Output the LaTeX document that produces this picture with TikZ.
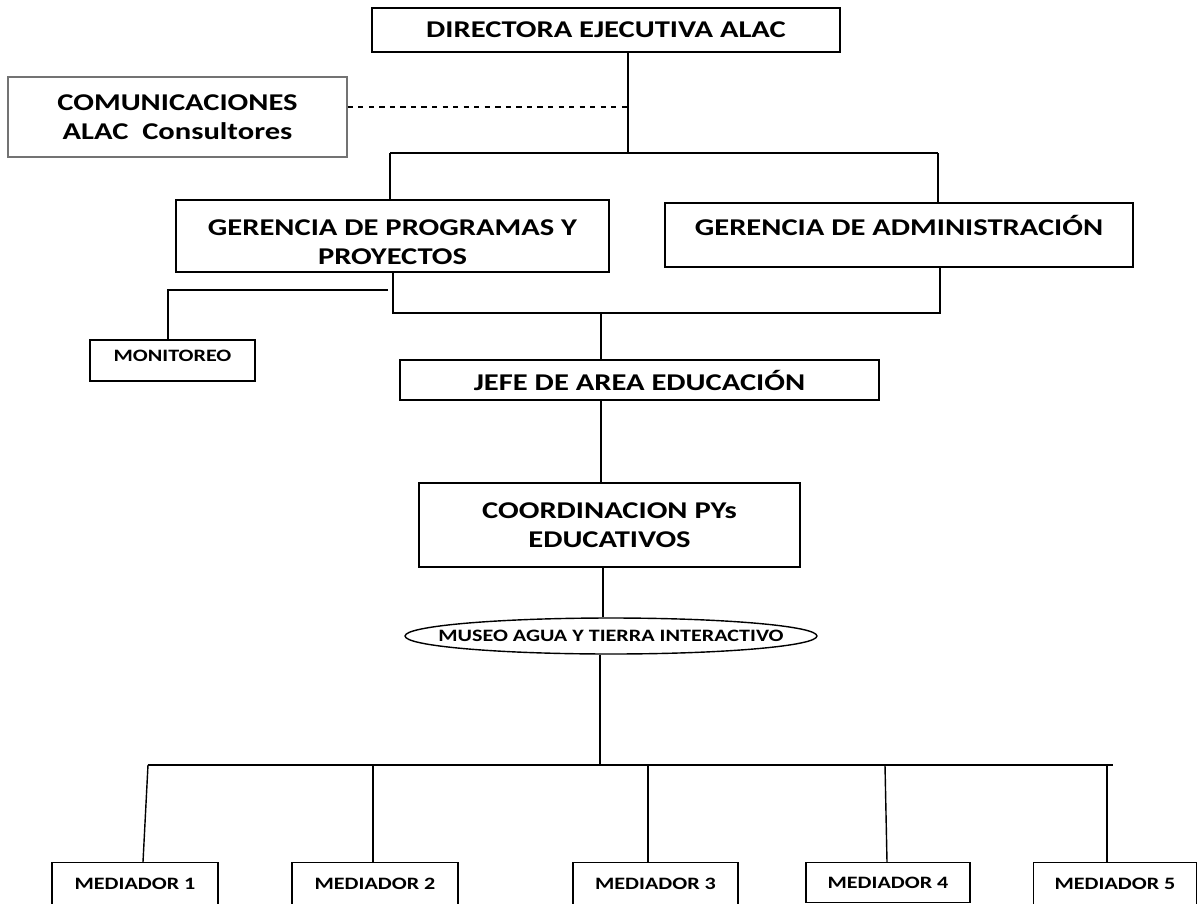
\documentclass[tikz,border=0pt]{standalone}
\usepackage{fontspec}
\setmainfont{Carlito}[FakeStretch=1.27]
\usetikzlibrary{shapes.geometric}
\tikzset{
  box/.style={draw, line width=0.8pt, align=center, inner sep=0pt},
  big/.style={font=\bfseries\fontsize{13.7}{16.8}\selectfont},
  small/.style={font=\bfseries\fontsize{9.9}{12}\selectfont},
  wire/.style={line width=0.8pt},
}

\begin{document}
\begin{tikzpicture}[x=0.02cm, y=-0.02cm]
			%%%%% START %%%%%
			\useasboundingbox (0,0) rectangle (1197,903);
			\clip (0,0) rectangle (1197,903);
			
			% top of the chart
			\node[box, big, minimum width=9.36cm, minimum height=0.88cm] (dir) at (606,30) {DIRECTORA EJECUTIVA ALAC};
			\node[box, big, draw=black!55, minimum width=6.78cm, minimum height=1.6cm] (com) at (177.5,117) {COMUNICACIONES\\ALAC\ \ Consultores};
			
			\coordinate (dash) at (632,107);
			\coordinate (top) at (628,153);
			\draw[wire] (dir.south -| top) -- (top);
			\draw[wire, dashed] (com.east |- dash) -- (dash);
			
			% gerencias
			\node[box, big, minimum width=8.66cm, minimum height=1.44cm] (gpp) at (392.5,236) {\rule{0pt}{16pt}GERENCIA DE PROGRAMAS Y\\PROYECTOS};
			\node[box, big, minimum width=9.36cm, minimum height=1.28cm] (gad) at (899,235) {GERENCIA DE ADMINISTRACIÓN\\[-6pt]~};
			
			\coordinate (busl) at (390,153);
			\coordinate (busr) at (938,153);
			\draw[wire] (busl) -- (busr);
			\draw[wire] (busl) -- (gpp.north -| busl);
			\draw[wire] (busr) -- (gad.north -| busr);
			
			% monitoreo
			\node[box, small, minimum width=3.3cm, minimum height=0.82cm, text depth=0.2cm] (mon) at (172.5,360.5) {MONITOREO};
			\coordinate (monl) at (168,290);
			\coordinate (monr) at (388,290);
			\draw[wire] (monr) -- (monl) -- (mon.north -| monl);
			
			% jefe y coordinacion
			\node[box, big, minimum width=9.58cm, minimum height=0.8cm] (jefe) at (639.5,380) {JEFE DE AREA EDUCACIÓN};
			\coordinate (gl) at (393,313);
			\coordinate (gr) at (940,313);
			\coordinate (gm) at (601,313);
			\draw[wire] (gpp.south -| gl) -- (gl) -- (gr) -- (gad.south -| gr);
			\draw[wire] (gm) -- (jefe.north -| gm);
			
			\node[box, big, minimum width=7.62cm, minimum height=1.68cm] (coord) at (609.5,525) {COORDINACION PYs\\EDUCATIVOS};
			\draw[wire] (jefe.south -| gm) -- (coord.north -| gm);
			
			\node[box, ellipse, small, minimum width=8.24cm, minimum height=0.72cm] (museo) at (611,636) {\makebox[0pt]{MUSEO AGUA Y TIERRA INTERACTIVO}};
			\draw[wire] (coord.south -| 603,0) -- (museo.north -| 603,0);
			
			% mediadores
			\coordinate (mbus) at (600,765);
			\coordinate (mbl) at (148,765);
			\coordinate (mbr) at (1113,765);
			\draw[wire] (museo.south -| mbus) -- (mbus);
			\draw[wire] (mbl) -- (mbr);
			
			\node[box, small, anchor=north, minimum width=3.32cm, minimum height=0.84cm] (m1) at (135,862) {MEDIADOR 1};
			\node[box, small, anchor=north, minimum width=3.32cm, minimum height=0.84cm] (m2) at (375,862) {MEDIADOR 2};
			\node[box, small, anchor=north, minimum width=3.3cm, minimum height=0.84cm] (m3) at (655.5,862) {MEDIADOR 3};
			\node[box, small, anchor=north, minimum width=3.28cm, minimum height=0.8cm] (m4) at (888,862) {MEDIADOR 4};
			\node[box, small, anchor=north, minimum width=3.26cm, minimum height=0.84cm] (m5) at (1115,862) {MEDIADOR 5};
			
			\draw[wire] (mbl) -- (m1.north -| 143,0);
			\draw[wire] (mbus -| 373,0) -- (m2.north -| 373,0);
			\draw[wire] (mbus -| 648,0) -- (m3.north -| 648,0);
			\draw[wire] (mbus -| 885,0) -- (m4.north -| 887,0);
			\draw[wire] (mbus -| 1107,0) -- (m5.north -| 1107,0);
			%%%%% END %%%%%
\end{tikzpicture}
\end{document}
